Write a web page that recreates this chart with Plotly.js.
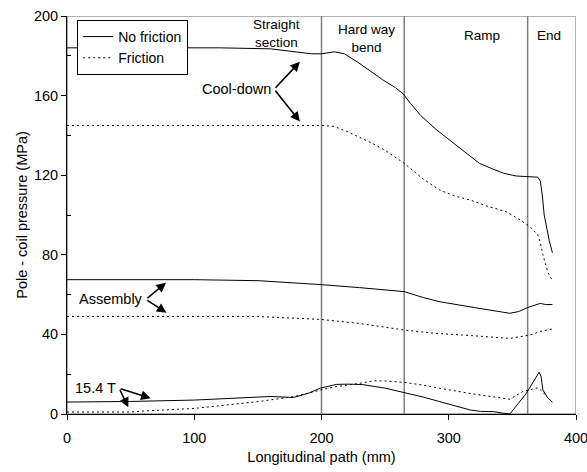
<!DOCTYPE html>
<html>
<head>
<meta charset="utf-8">
<script src="https://cdn.plot.ly/plotly-3.0.1.min.js"></script>
<style>html,body{margin:0;padding:0;background:#fff}#chart{width:587px;height:472px}</style>
</head>
<body>
<div id="chart"></div>
<script>
// Cool-down, no friction
const coolNoFrictionX = [0,60,120,160,180,192,200,210,218,228,238,248,258,264,270,278,290,300,311,324,335,343,353,365,370,372,373.5,375,377,379,381.5];
const coolNoFrictionY = [184,184,184,183.5,182,181,181,182,181,177,172.5,168,164,161,156,150,143,138,132.7,126,123,121,119.6,119.3,119,117,110,100,93,87,81];
// Cool-down, friction
const coolFrictionX = [0,100,180,200,210,220,230,240,250,258,265,280,293,305,317,330,345,355,364,370,372,374,376,378,381.5];
const coolFrictionY = [145,145,145,145,144.5,142,139,136,132.5,129,126,118,112.5,109.5,107.5,104.5,101.7,98,94,90,86,80,75,71,67];
// Assembly, no friction
const asmNoFrictionX = [0,100,150,180,200,230,265,280,293,320,348,355,362,372,376,381.5];
const asmNoFrictionY = [67.5,67.5,67,66,65,63.5,61.5,58.5,56.4,53.5,50.6,51.5,53.5,55.6,55,55];
// Assembly, friction
const asmFrictionX = [0,100,150,200,230,265,290,311,348,364,372,381.5];
const asmFrictionY = [49,49,49,47.5,45.5,42.2,40.5,39.7,38,39.7,41.5,42.7];
// 15.4 T, no friction
const fieldNoFrictionX = [0,50,100,140,160,178,190,199,206,212,222,232,250,263,280,293,305,317,325,335,342,348,361,371,372.5,374,378,381.5];
const fieldNoFrictionY = [6,6.3,7,8.3,8.8,8.3,10.5,13,14,14.9,15,14.8,13,11.2,8.5,6.2,4,2,1.3,1.2,0.5,0,10.4,21,19,12,7.9,5.9];
// 15.4 T, friction
const fieldFrictionX = [0,50,60,100,150,178,199,210,230,241,250,265,280,293,320,348,358,370,374,377,381.5];
const fieldFrictionY = [1,1,1.5,2.8,6.2,8.7,12,13.6,15.4,16.7,16.6,15.9,14.5,12.9,10,7.4,11.2,13.2,11,8.7,5.9];

const sectionBounds = [200, 265, 362];
const sectionLabels = ["Straight<br>section", "Hard way<br>bend", "Ramp", "End"];
const sectionLabelX = [165, 235, 326, 379];
const sectionLabelY = [0.957, 0.944, 0.952, 0.952];

const seriesNames = ["No friction", "Friction"];

const FONT = "Liberation Sans, Arial, sans-serif";
const FS = 14.5;
const solid = {color:'#000', width:1, dash:'solid'};
const dotted = {color:'#000', width:1, dash:'2px,3px'};

const traces = [
  {x:coolNoFrictionX, y:coolNoFrictionY, name:seriesNames[0], line:solid, showlegend:true},
  {x:coolFrictionX, y:coolFrictionY, name:seriesNames[1], line:dotted, showlegend:true},
  {x:asmNoFrictionX, y:asmNoFrictionY, line:solid, showlegend:false},
  {x:asmFrictionX, y:asmFrictionY, line:dotted, showlegend:false},
  {x:fieldNoFrictionX, y:fieldNoFrictionY, line:solid, showlegend:false},
  {x:fieldFrictionX, y:fieldFrictionY, line:dotted, showlegend:false}
].map(t => Object.assign({type:'scatter', mode:'lines', hoverinfo:'skip'}, t));

const shapes = [
  {type:'rect', xref:'x', yref:'y', x0:0, x1:400, y0:0, y1:200, line:{color:'#999', width:1.5}, layer:'below'}
];
sectionBounds.forEach(b => shapes.push({type:'line', xref:'x', yref:'y', x0:b, x1:b, y0:0, y1:200, line:{color:'#7f7f7f', width:1.5}, layer:'below'}));

const annotations = [];
sectionLabels.forEach((s,i) => annotations.push({xref:'x', yref:'paper', x:sectionLabelX[i], y:sectionLabelY[i], text:s, showarrow:false, font:{family:FONT, size:13.5, color:'#000'}, xanchor:'center', yanchor:'middle'}));

function arrowLabel(text, vx, vy, tips){
  annotations.push({xref:'x', yref:'y', x:vx-0.8, y:vy, text:text, showarrow:false, xanchor:'right', yanchor:'middle', font:{family:FONT, size:FS, color:'#000'}});
  tips.forEach(t => annotations.push({xref:'x', yref:'y', axref:'x', ayref:'y', x:t[0], y:t[1], ax:vx, ay:vy, text:'', showarrow:true, arrowhead:2, arrowsize:1.2, arrowwidth:1.6, arrowcolor:'#000'}));
}
arrowLabel("Cool-down", 162.8, 163.2, [[183,177],[183,147]]);
arrowLabel("Assembly", 62, 57.6, [[77.8,66],[78.2,50.9]]);
arrowLabel("15.4 T", 41, 12.9, [[65.7,7.9],[48.2,3.4]]);

const layout = {
  width:587, height:472,
  margin:{l:67, r:11, t:16, b:58},
  paper_bgcolor:'#fff', plot_bgcolor:'#fff',
  font:{family:FONT, size:FS, color:'#000'},
  showlegend:true,
  legend:{x:0.02, y:0.99, xanchor:'left', yanchor:'top', bgcolor:'#fff', bordercolor:'#000', borderwidth:1, font:{family:FONT, size:14, color:'#000'}, itemwidth:30, tracegroupgap:0},
  xaxis:{range:[0,400], tickvals:[0,100,200,300,400], ticks:'outside', ticklen:5, tickcolor:'#000', showline:true, linecolor:'#000', linewidth:1, showgrid:false, zeroline:false,
         ticklabelstandoff:6, ticklabeloverflow:'allow',
         tickfont:{family:FONT, size:FS, color:'#000'},
         title:{text:'Longitudinal path (mm)', font:{family:FONT, size:FS, color:'#000'}, standoff:6}},
  yaxis:{range:[0,200], tickvals:[0,40,80,120,160,200], ticks:'outside', ticklen:5, tickcolor:'#000', showline:true, linecolor:'#000', linewidth:1, showgrid:false, zeroline:false,
         minor:{tickvals:[20,60,100,140,180], ticks:'inside', ticklen:4, tickcolor:'#000', showgrid:false},
         tickfont:{family:FONT, size:FS, color:'#000'},
         title:{text:'Pole - coil pressure (MPa)', font:{family:FONT, size:FS, color:'#000'}, standoff:2}},
  shapes:shapes,
  annotations:annotations
};

Plotly.newPlot('chart', traces, layout, {displayModeBar:false, staticPlot:true});
</script>
</body>
</html>
